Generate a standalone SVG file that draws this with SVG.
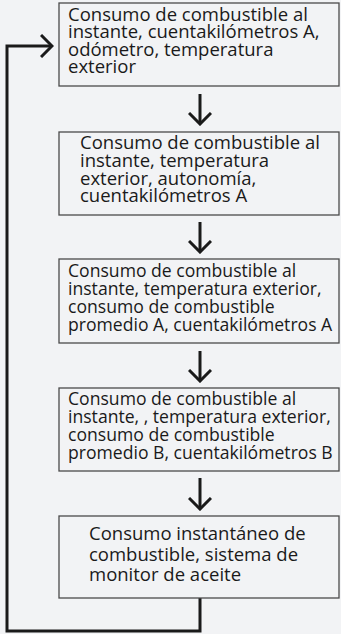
<svg xmlns="http://www.w3.org/2000/svg" width="341" height="634" viewBox="0 0 341 634">
<defs>
<style>
.bg{fill:#f2f3f5}
.box{fill:#f2f3f5;stroke:#4a4a4a;stroke-width:1.3}
.t{font-family:"Open Sans","Noto Sans",sans-serif;font-size:18.5px;fill:#1a1a1a}
.s{font-size:17.6px}
.c{fill:none;stroke:#1a1a1a;stroke-width:3;stroke-linejoin:miter}
</style>
<marker id="ah" viewBox="0 0 14 24" refX="12" refY="12" markerWidth="14" markerHeight="24" markerUnits="userSpaceOnUse" orient="auto">
<path d="M1,1 L12,12 L1,23" fill="none" stroke="#1a1a1a" stroke-width="3"/>
</marker>
</defs>
<rect class="bg" x="0" y="0" width="341" height="634"/>
<g id="connectors">
<path class="c" d="M200,94 V124" marker-end="url(#ah)"/>
<path class="c" d="M200,222 V252" marker-end="url(#ah)"/>
<path class="c" d="M200,351 V381" marker-end="url(#ah)"/>
<path class="c" d="M200,478 V509" marker-end="url(#ah)"/>
<path class="c" d="M200,598 V631 H7 V46 H52" marker-end="url(#ah)"/>
</g>
<g id="node1">
<rect class="box" x="59" y="3" width="280" height="83"/>
<text class="t"><tspan x="68" y="20.5">Consumo de combustible al</tspan><tspan x="68" y="38">instante, cuentakilómetros A,</tspan><tspan x="68" y="55.5">odómetro, temperatura</tspan><tspan x="68" y="73">exterior</tspan></text>
</g>
<g id="node2">
<rect class="box" x="59" y="132" width="280" height="83"/>
<text class="t"><tspan x="80" y="149">Consumo de combustible al</tspan><tspan x="80" y="167">instante, temperatura</tspan><tspan x="80" y="185">exterior, autonomía,</tspan><tspan x="80" y="202">cuentakilómetros A</tspan></text>
</g>
<g id="node3">
<rect class="box" x="59" y="259" width="280" height="84"/>
<text class="t s"><tspan x="68" y="277">Consumo de combustible al</tspan><tspan x="68" y="295">instante, temperatura exterior,</tspan><tspan x="68" y="313">consumo de combustible</tspan><tspan x="68" y="331">promedio A, cuentakilómetros A</tspan></text>
</g>
<g id="node4">
<rect class="box" x="59" y="388" width="280" height="83"/>
<text class="t s"><tspan x="68" y="405">Consumo de combustible al</tspan><tspan x="68" y="423">instante, , temperatura exterior,</tspan><tspan x="68" y="441">consumo de combustible</tspan><tspan x="68" y="459">promedio B, cuentakilómetros B</tspan></text>
</g>
<g id="node5">
<rect class="box" x="59" y="516" width="280" height="82"/>
<text class="t"><tspan x="89" y="540">Consumo instantáneo de</tspan><tspan x="89" y="561">combustible, sistema de</tspan><tspan x="89" y="581">monitor de aceite</tspan></text>
</g>
</svg>
